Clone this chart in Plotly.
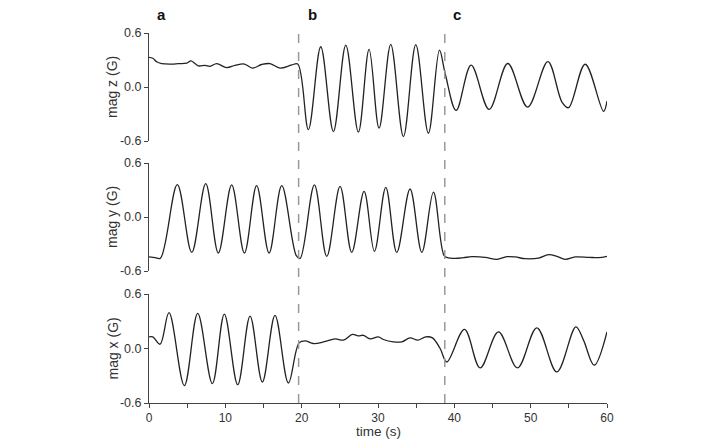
import plotly.graph_objects as go

# ---- data ----
t_z = [0, 0.5, 1.0, 1.66, 3.0, 3.84, 4.94, 5.5, 6.46, 7.34, 8.0, 8.87, 10.18, 11.27, 12.5,
       13.54, 14.77, 15.86, 17.17, 18.7, 19.49,
       20.88, 22.5, 24.16, 25.78, 27.43, 28.83, 30.14, 31.67, 33.33, 34.95, 36.6, 38.05, 38.8,
       40.24, 42.2, 44.56, 47.0, 49.6, 52.25, 54.1, 54.96, 57.14, 59.55, 60.0]
mag_z = [0.33, 0.32, 0.28, 0.26, 0.255, 0.26, 0.265, 0.29, 0.235, 0.24, 0.23, 0.26, 0.215, 0.24, 0.255,
         0.21, 0.25, 0.26, 0.21, 0.245, 0.255,
         -0.473, 0.447, -0.495, 0.466, -0.502, 0.418, -0.458, 0.473, -0.551, 0.47, -0.514, 0.41, 0.15,
         -0.26, 0.242, -0.249, 0.261, -0.223, 0.283, -0.167, -0.23, 0.253, -0.27, -0.156]

t_y = [0, 0.8, 1.5, 3.71, 5.6, 7.43, 9.08, 10.83, 12.5, 14.1, 15.73, 17.39, 19.3, 19.8,
       21.67, 23.29, 25.03, 26.56, 28.18, 29.53, 31.02, 32.46, 34.2, 35.74, 37.26, 38.66,
       39.2, 40.1, 41.2, 42.3, 44.04, 45.57, 46.88, 47.97, 49.28, 51.03, 52.33, 53.43,
       54.52, 55.83, 57.58, 58.89, 60.0]
mag_y = [-0.444, -0.452, -0.458, 0.359, -0.393, 0.37, -0.4, 0.356, -0.4, 0.348, -0.4, 0.348, -0.43, -0.46,
         0.356, -0.437, 0.34, -0.393, 0.285, -0.382, 0.329, -0.393, 0.311, -0.393, 0.277, -0.43,
         -0.455, -0.459, -0.452, -0.441, -0.448, -0.47, -0.441, -0.444, -0.463, -0.456, -0.419, -0.437,
         -0.47, -0.444, -0.448, -0.452, -0.437]

t_x = [0, 0.5, 1.44, 2.62, 4.63, 6.38, 8.3, 9.87, 11.62, 13.24, 14.85, 16.51, 18.26, 19.66,
       20.45, 21.53, 23.0, 24.38, 25.47, 26.65, 27.4, 28.09, 28.96, 30.05, 30.71, 32.02, 33.12,
       34.2, 35.21, 36.26, 37.13, 38.14, 39.01, 41.33, 43.38, 45.78, 48.27, 50.81, 53.43,
       55.92, 56.92, 58.32, 60.0]
mag_x = [0.128, 0.128, 0.047, 0.394, -0.409, 0.387, -0.387, 0.379, -0.398, 0.357, -0.369, 0.365, -0.38, 0.062,
         0.084, 0.055, 0.075, 0.106, 0.092, 0.155, 0.14, 0.145, 0.106, 0.128, 0.099, 0.073, 0.073,
         0.117, 0.092, 0.128, 0.117, 0.0, -0.148, 0.21, -0.214, 0.183, -0.214, 0.228, -0.258,
         0.239, 0.092, -0.184, 0.183]

x_ticks = [0, 10, 20, 30, 40, 50, 60]
x_title = "time (s)"
y_ticks = [-0.6, 0.0, 0.6]
y_ticktext = ["-0.6", "0.0", "0.6"]
y_titles = ["mag z (G)", "mag y (G)", "mag x (G)"]
phase_times = [19.6, 38.75]
phase_labels = ["a", "b", "c"]
phase_label_t = [1.6, 21.4, 40.4]

LINE = "#222222"
AX = "#444444"
TXT = "#333333"
FONT = "Liberation Sans, Arial, sans-serif"

fig = go.Figure()
fig.add_trace(go.Scatter(x=t_z, y=mag_z, mode="lines", xaxis="x", yaxis="y",
                         line=dict(color=LINE, width=1.3, shape="spline", smoothing=1.0)))
fig.add_trace(go.Scatter(x=t_y, y=mag_y, mode="lines", xaxis="x", yaxis="y2",
                         line=dict(color=LINE, width=1.3, shape="spline", smoothing=1.0)))
fig.add_trace(go.Scatter(x=t_x, y=mag_x, mode="lines", xaxis="x", yaxis="y3",
                         line=dict(color=LINE, width=1.3, shape="spline", smoothing=1.0)))

H = 439 - 33 - 36
domains = [[(439 - 141 - 36) / H, 1.0], [(439 - 271 - 36) / H, (439 - 163 - 36) / H],
           [0.0, (439 - 294 - 36) / H]]

yax_common = dict(range=[-0.6, 0.6], tickvals=y_ticks, ticktext=y_ticktext, ticks="outside",
                  ticklen=4, tickwidth=1, tickcolor=AX, showline=True, linecolor=AX, linewidth=1,
                  showgrid=False, zeroline=False, anchor="x", automargin=False,
                  tickfont=dict(family=FONT, size=12.5, color=TXT))

fig.update_layout(
    width=720, height=439,
    margin=dict(l=149, r=113, t=33, b=36, autoexpand=False),
    paper_bgcolor="white", plot_bgcolor="white",
    showlegend=False,
    xaxis=dict(range=[0, 60], tickvals=x_ticks, ticks="outside", ticklen=4, tickwidth=1,
               tickcolor=AX, showline=True, linecolor=AX, linewidth=1, showgrid=False,
               zeroline=False, anchor="y3", automargin=False,
               minor=dict(ticks="outside", dtick=5, ticklen=4, tickcolor=AX, showgrid=False),
               tickfont=dict(family=FONT, size=12, color=TXT)),
    yaxis=dict(domain=domains[0], **yax_common),
    yaxis2=dict(domain=domains[1], **yax_common),
    yaxis3=dict(domain=domains[2], **yax_common),
)

W = 720 - 149 - 113
for i, title in enumerate(y_titles):
    d = domains[i]
    fig.add_annotation(text=title, xref="paper", yref="paper", x=(112 - 149) / W,
                       y=(d[0] + d[1]) / 2, textangle=-90, showarrow=False,
                       xanchor="center", yanchor="middle",
                       font=dict(family=FONT, size=14, color=TXT))

fig.add_annotation(text=x_title, xref="paper", yref="paper", x=0.5, y=-(431.5 - 403) / H,
                   showarrow=False, xanchor="center", yanchor="middle",
                   font=dict(family=FONT, size=13.5, color=TXT))

for t in phase_times:
    fig.add_shape(type="line", xref="x", yref="paper", x0=t, x1=t, y0=0, y1=1 + 8 / H,
                  line=dict(color="#999999", width=1.5, dash="dash"))

for lab, t in zip(phase_labels, phase_label_t):
    fig.add_annotation(text="<b>%s</b>" % lab, xref="x", yref="paper", x=t, y=1 + 19 / H,
                       showarrow=False, xanchor="center", yanchor="middle",
                       font=dict(family=FONT, size=15, color="#111111"))

fig.write_html("out.html")
